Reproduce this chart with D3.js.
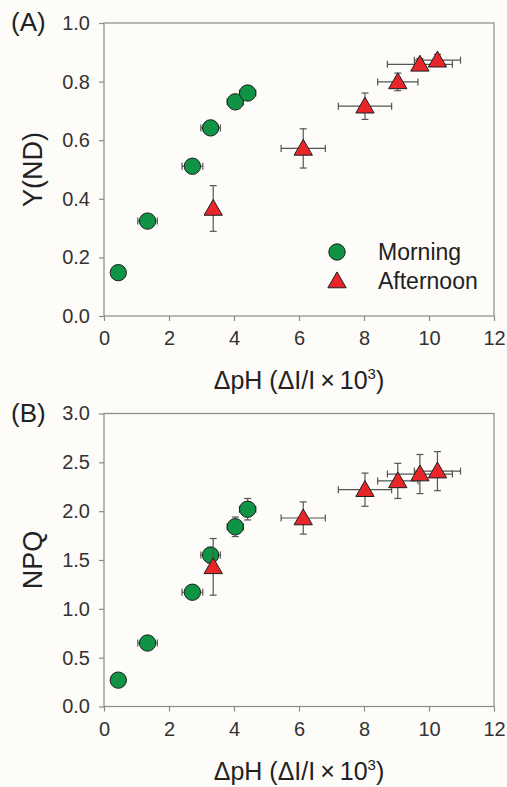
<!DOCTYPE html>
<html>
<head>
    <meta charset="utf-8">
    <title>Y(ND) and NPQ vs dpH</title>
    <script src="https://cdn.jsdelivr.net/npm/d3@7"></script>
    <style>
        html, body {
            margin: 0;
            padding: 0;
            background-color: #fdfcf9;
            font-family: Arial, "Liberation Sans", Helvetica, sans-serif;
        }
        svg text { fill: #222; }
        .axis path, .axis line { stroke: #8a8a8a; stroke-width: 1.2; }
        .axis text { font-size: 20px; fill: #333; }
        .frame { fill: none; stroke: #8a8a8a; stroke-width: 1.2; }
        .err line { stroke: #555; stroke-width: 1.2; }
        .pt { stroke: #1e1e1e; stroke-width: 1; }
    </style>
</head>
<body>
<svg></svg>
<script>
    // x values: dpH (dI/I x 10^3)
    var xMorning      = [0.44, 1.34, 2.72, 3.28, 4.04, 4.42],
        xMorningErr   = [0.06, 0.30, 0.32, 0.30, 0.25, 0.25],
        xAfternoon    = [3.36, 6.13, 8.03, 9.04, 9.72, 10.26],
        xAfternoonErr = [0.04, 0.68, 0.82, 0.62, 1.00, 0.71];

    // panel A: Y(ND)
    var yndMorning      = [0.148, 0.324, 0.511, 0.642, 0.731, 0.761],
        yndMorningErr   = [0.005, 0.012, 0.010, 0.010, 0.010, 0.012],
        yndAfternoon    = [0.367, 0.572, 0.716, 0.799, 0.859, 0.873],
        yndAfternoonErr = [0.078, 0.067, 0.045, 0.030, 0.020, 0.020];

    // panel B: NPQ
    var npqMorning      = [0.27, 0.65, 1.17, 1.55, 1.84, 2.02],
        npqMorningErr   = [0.02, 0.04, 0.05, 0.08, 0.10, 0.11],
        npqAfternoon    = [1.43, 1.93, 2.22, 2.31, 2.38, 2.41],
        npqAfternoonErr = [0.29, 0.165, 0.17, 0.18, 0.20, 0.20];

    var xTicks    = [0, 2, 4, 6, 8, 10, 12],
        yndTicks  = [0, 0.2, 0.4, 0.6, 0.8, 1.0],
        npqTicks  = [0, 0.5, 1.0, 1.5, 2.0, 2.5, 3.0],
        seriesNames = ['Morning', 'Afternoon'];

    var W = 507, H = 787,
        left = 104, plotW = 390, plotH = 293;

    var svg = d3.select('svg').attr('width', W).attr('height', H);

    var x = d3.scaleLinear().domain([0, 12]).range([left, left + plotW]);

    var circle = d3.symbol().type(d3.symbolCircle).size(210),
        triangle = d3.symbol().type(d3.symbolTriangle).size(145);

    function zip(xs, xe, ys, ye) {
        return xs.map(function (v, i) {
            return { x: v, xe: xe[i], y: ys[i], ye: ye[i] };
        });
    }

    function errBars(g, data, y) {
        var cap = 3.5;
        var e = g.append('g').attr('class', 'err');
        data.forEach(function (d) {
            var cx = x(d.x), cy = y(d.y);
            // horizontal
            e.append('line').attr('x1', x(d.x - d.xe)).attr('x2', x(d.x + d.xe))
                .attr('y1', cy).attr('y2', cy);
            e.append('line').attr('x1', x(d.x - d.xe)).attr('x2', x(d.x - d.xe))
                .attr('y1', cy - cap).attr('y2', cy + cap);
            e.append('line').attr('x1', x(d.x + d.xe)).attr('x2', x(d.x + d.xe))
                .attr('y1', cy - cap).attr('y2', cy + cap);
            // vertical
            e.append('line').attr('x1', cx).attr('x2', cx)
                .attr('y1', y(d.y - d.ye)).attr('y2', y(d.y + d.ye));
            e.append('line').attr('x1', cx - cap).attr('x2', cx + cap)
                .attr('y1', y(d.y - d.ye)).attr('y2', y(d.y - d.ye));
            e.append('line').attr('x1', cx - cap).attr('x2', cx + cap)
                .attr('y1', y(d.y + d.ye)).attr('y2', y(d.y + d.ye));
        });
    }

    function points(g, data, y, sym, color, dy) {
        g.append('g').selectAll('path').data(data).enter().append('path')
            .attr('class', 'pt')
            .attr('d', sym)
            .attr('fill', color)
            .attr('transform', function (d) {
                return 'translate(' + x(d.x) + ',' + (y(d.y) + (dy || 0)) + ')';
            });
    }

    function panel(top, label, yTitle, yDomain, yTicks, fmt, morning, afternoon, legend) {
        var y = d3.scaleLinear().domain(yDomain).range([top + plotH, top]);
        var g = svg.append('g');

        g.append('rect').attr('class', 'frame')
            .attr('x', left).attr('y', top).attr('width', plotW).attr('height', plotH);

        g.append('g').attr('class', 'axis')
            .attr('transform', 'translate(0,' + (top + plotH) + ')')
            .call(d3.axisBottom(x).tickValues(xTicks).tickSize(5).tickPadding(10))
            .call(function (a) { a.select('.domain').remove(); });

        g.append('g').attr('class', 'axis')
            .attr('transform', 'translate(' + left + ',0)')
            .call(d3.axisLeft(y).tickValues(yTicks).tickFormat(d3.format(fmt)).tickSize(5).tickPadding(9))
            .call(function (a) { a.select('.domain').remove(); });

        // panel label
        g.append('text').attr('x', 11).attr('y', top + 8)
            .style('font-size', '26px').text(label);

        // y title
        g.append('text')
            .attr('transform', 'translate(42,' + (top + plotH / 2) + ')rotate(-90)')
            .attr('text-anchor', 'middle')
            .style('font-size', '27px').text(yTitle);

        // x title
        var xt = g.append('text')
            .attr('x', left + plotW / 2).attr('y', top + plotH + 73)
            .attr('text-anchor', 'middle')
            .style('font-size', '25px');
        xt.append('tspan').text('\u0394pH (\u0394I/I\u2009\u00d7\u200910');
        xt.append('tspan').attr('dy', -10).style('font-size', '15px').text('3');
        xt.append('tspan').attr('dy', 10).text(')');

        errBars(g, morning, y);
        points(g, morning, y, circle, '#0e9444');
        errBars(g, afternoon, y);
        points(g, afternoon, y, triangle, '#e8262a', 1.5);

        if (legend) {
            var lg = g.append('g');
            var items = [
                { name: seriesNames[0], sym: circle, color: '#0e9444', dy: 0 },
                { name: seriesNames[1], sym: triangle, color: '#e8262a', dy: 1.5 }
            ];
            items.forEach(function (it, i) {
                var ly = 252 + i * 29;
                lg.append('path').attr('class', 'pt').attr('d', it.sym)
                    .attr('fill', it.color)
                    .attr('transform', 'translate(337,' + (ly + it.dy) + ')');
                lg.append('text').attr('x', 378).attr('y', ly + 8)
                    .style('font-size', '23px').text(it.name);
            });
        }
    }

    panel(23, '(A)', 'Y(ND)', [0, 1], yndTicks, '.1f',
        zip(xMorning, xMorningErr, yndMorning, yndMorningErr),
        zip(xAfternoon, xAfternoonErr, yndAfternoon, yndAfternoonErr), true);

    panel(413.5, '(B)', 'NPQ', [0, 3], npqTicks, '.1f',
        zip(xMorning, xMorningErr, npqMorning, npqMorningErr),
        zip(xAfternoon, xAfternoonErr, npqAfternoon, npqAfternoonErr), false);
</script>
</body>
</html>
